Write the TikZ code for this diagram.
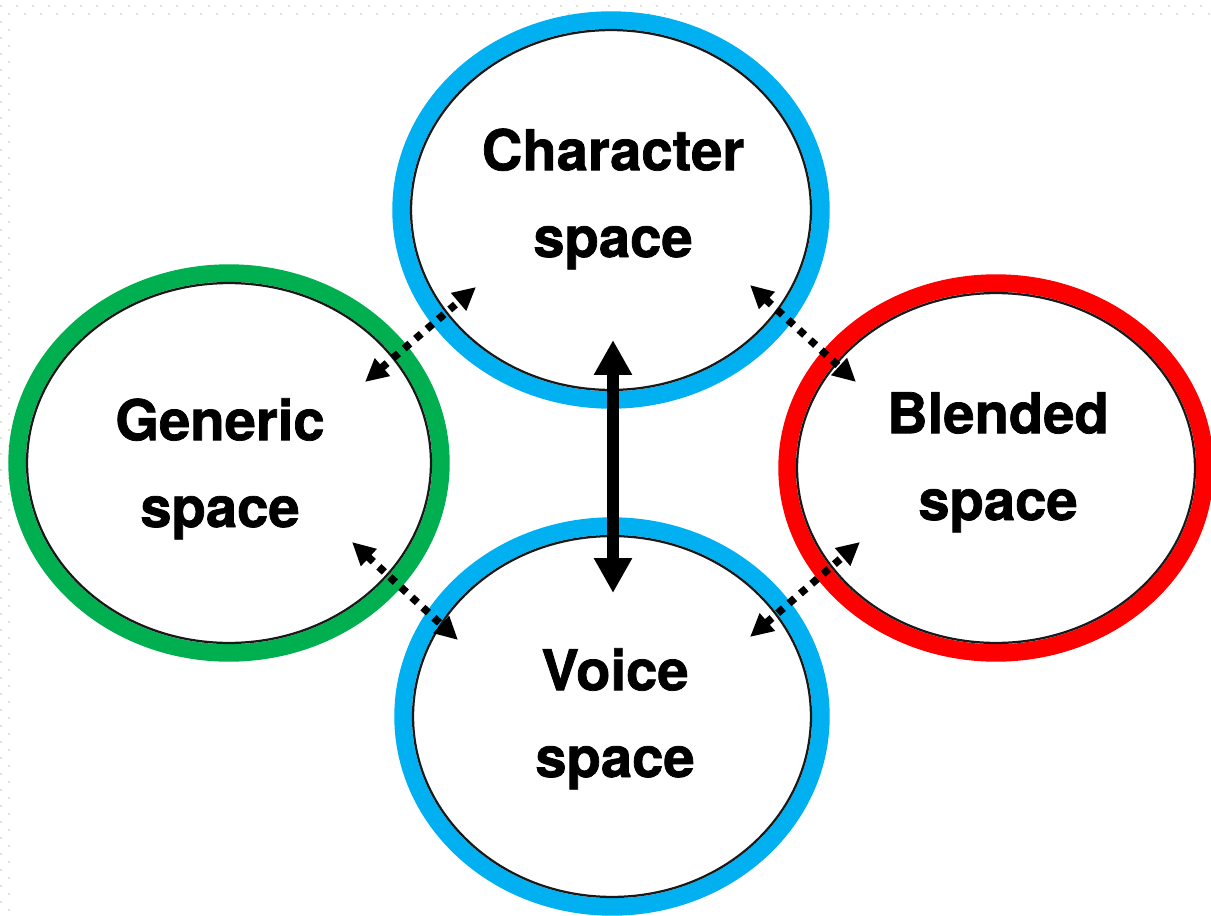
\documentclass[tikz,border=0pt]{standalone}
\usepackage{fontspec}
\setmainfont{TeX Gyre Heros}[BoldFeatures={FakeBold=1.3}]
\usetikzlibrary{arrows.meta,shapes.geometric}
\definecolor{ringblue}{HTML}{00B0F0}
\definecolor{ringgreen}{HTML}{00B050}
\definecolor{ringred}{HTML}{FF0000}
\definecolor{griddot}{HTML}{E4E4D4}

\begin{document}
\begin{tikzpicture}[x=0.02cm,y=-0.02cm,
  ring/.style={ellipse, draw=#1, line width=0.35cm, inner sep=0pt, outer sep=0pt},
  rim/.style={line width=0.045cm, black!90},
  caption/.style={font=\bfseries\fontsize{32}{49.4}\selectfont, align=center, anchor=base, inner sep=0pt},
  link/.style={line width=0.15cm, dash pattern=on 0.15cm off 0.15cm,
    {Triangle[length=0.46cm,width=0.44cm]}-{Triangle[length=0.46cm,width=0.44cm]}},
  mainlink/.style={line width=0.24cm,
    {Triangle[length=0.7cm,width=0.72cm]}-{Triangle[length=0.7cm,width=0.72cm]}}]

\useasboundingbox (0,0) rectangle (1211,916);
\clip (0,0) rectangle (1211,916);

% faint dotted grid along the top and left margins
\foreach \i in {0,...,76} {
  \fill[griddot] (16*\i,5) rectangle ++(2.2,2.2);
  \fill[griddot] (8+16*\i,13) rectangle ++(2.2,2.2);
}
\foreach \j in {0,...,56} {
  \fill[griddot] (0,21+16*\j) rectangle ++(2.2,2.2);
  \fill[griddot] (8,29+16*\j) rectangle ++(2.2,2.2);
}

% the four spaces
\node[ring=ringblue,  minimum width=8.40cm, minimum height=7.60cm] (char)  at (611,210)   {};
\node[ring=ringblue,  minimum width=8.36cm, minimum height=7.62cm] (voice) at (612,716.5) {};
\node[ring=ringgreen, minimum width=8.48cm, minimum height=7.60cm] (gen)   at (229,463)   {};
\node[ring=ringred,   minimum width=8.36cm, minimum height=7.40cm] (blend) at (996,468)   {};

% thin dark rim on the inside of each ring
\draw[rim] (char.center)  ellipse [x radius=4.00cm, y radius=3.60cm];
\draw[rim] (voice.center) ellipse [x radius=3.98cm, y radius=3.61cm];
\draw[rim] (gen.center)   ellipse [x radius=4.04cm, y radius=3.60cm];
\draw[rim] (blend.center) ellipse [x radius=3.98cm, y radius=3.50cm];

% labels (anchored at the baseline of the second line)
\node[caption] (charlbl)  at (613,257) {Character\\space};
\node[caption] (genlbl)   at (220,527) {Generic\\space};
\node[caption] (blendlbl) at (998,520) {Blended\\space};
\node[caption] (voicelbl) at (615,777) {Voice\\space};

% arrow ends
\coordinate (gc1) at ([shift={(136,-81)}]gen.center);
\coordinate (gc2) at ([shift={(-135,77)}]char.center);
\coordinate (cb1) at ([shift={(139,75)}]char.center);
\coordinate (cb2) at ([shift={(-140,-86)}]blend.center);
\coordinate (gv1) at ([shift={(123,79)}]gen.center);
\coordinate (gv2) at ([shift={(-154,-76.5)}]voice.center);
\coordinate (vb1) at ([shift={(138,-79.5)}]voice.center);
\coordinate (vb2) at ([shift={(-136,74)}]blend.center);
\coordinate (cv1) at ([shift={(2,130)}]char.center);
\coordinate (cv2) at ([shift={(1,-123.5)}]voice.center);

% mappings between the spaces
\draw[link] (gc1) -- (gc2);
\draw[link] (cb1) -- (cb2);
\draw[link] (gv1) -- (gv2);
\draw[link] (vb1) -- (vb2);
\draw[mainlink] (cv1) -- (cv2);
\end{tikzpicture}
\end{document}
